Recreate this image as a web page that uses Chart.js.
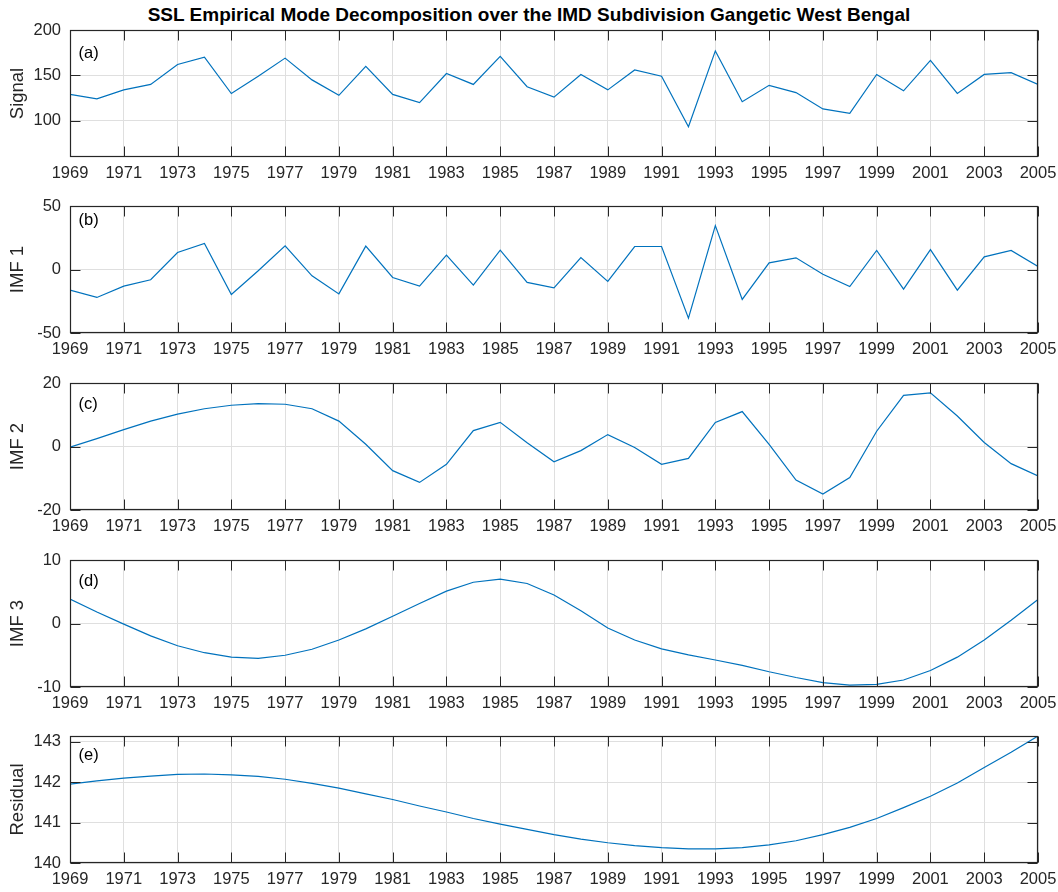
<!DOCTYPE html>
<html>
<head>
<meta charset="utf-8">
<script src="https://cdn.jsdelivr.net/npm/chart.js@4.4.0/dist/chart.umd.min.js"></script>
<style>
    body { margin: 0; background: #ffffff; }
    #figura { position: relative; width: 1058px; height: 892px; background: #ffffff; }
    #titulo {
        position: absolute; left: 0; top: 5px; width: 1058px; text-align: center;
        font: bold 19px/20px "Liberation Sans", Arial, sans-serif; color: #000000;
    }
    .panel { position: absolute; left: 0; width: 1058px; height: 176px; }
</style>
</head>
<body>
<div id="figura">
    <div id="titulo">SSL Empirical Mode Decomposition over the IMD Subdivision Gangetic West Bengal</div>
</div>
<script>
var years = [1969, 1970, 1971, 1972, 1973, 1974, 1975, 1976, 1977, 1978,
    1979, 1980, 1981, 1982, 1983, 1984, 1985, 1986, 1987, 1988,
    1989, 1990, 1991, 1992, 1993, 1994, 1995, 1996, 1997, 1998,
    1999, 2000, 2001, 2002, 2003, 2004, 2005];

var x_ticks = [1969, 1971, 1973, 1975, 1977, 1979, 1981, 1983, 1985, 1987,
    1989, 1991, 1993, 1995, 1997, 1999, 2001, 2003, 2005];

var signal = [129, 124, 134, 140, 162, 170, 130, 149, 169, 145,
    128, 160, 129, 120, 152, 140, 171, 137.5, 126, 151,
    134, 156, 149, 93.4, 177, 121, 139, 131, 113, 108,
    151, 133, 166.5, 130, 151, 153, 140];

var imf1 = [-16.3, -22, -13.1, -8.1, 13.4, 20.5, -19.7, -1, 18.6, -5,
    -19.2, 18.4, -6.3, -13.1, 11.3, -12.3, 15.2, -10.2, -14.4, 9.4,
    -9.4, 18.1, 18.1, -38.3, 34.6, -23.6, 5.2, 9.2, -3.7, -13.4,
    15, -15.5, 15.7, -16.3, 10, 15, 2.4];

var imf2 = [-0.2, 2.5, 5.3, 8, 10.2, 11.9, 13, 13.5, 13.3, 11.9,
    8, 0.7, -7.6, -11.3, -5.6, 5, 7.6, 1.2, -4.8, -1.3,
    3.75, -0.3, -5.6, -3.75, 7.6, 11, 0.7, -10.6, -15, -9.8,
    4.8, 16.1, 16.9, 9.6, 1.25, -5.4, -9.3];

var imf3 = [3.84, 1.8, -0.1, -1.95, -3.5, -4.6, -5.3, -5.5, -5, -4.05,
    -2.6, -0.85, 1.15, 3.15, 5.1, 6.5, 7, 6.3, 4.5, 2,
    -0.7, -2.6, -4, -4.95, -5.75, -6.6, -7.6, -8.5, -9.3, -9.7,
    -9.6, -8.9, -7.4, -5.3, -2.6, 0.5, 3.8];

var residual = [141.95, 142.03, 142.1, 142.15, 142.19, 142.2, 142.18, 142.14, 142.07, 141.97,
    141.85, 141.71, 141.57, 141.41, 141.26, 141.1, 140.96, 140.83, 140.7, 140.59,
    140.5, 140.43, 140.38, 140.35, 140.35, 140.38, 140.45, 140.55, 140.7, 140.88,
    141.1, 141.37, 141.65, 141.98, 142.36, 142.74, 143.14];

var y_labels = ['Signal', 'IMF 1', 'IMF 2', 'IMF 3', 'Residual'];
var panel_tags = ['(a)', '(b)', '(c)', '(d)', '(e)'];
var y_ticks = [[100, 150, 200], [-50, 0, 50], [-20, 0, 20], [-10, 0, 10], [140, 141, 142, 143]];
var y_limits = [[60, 200], [-50, 50], [-20, 20], [-10, 10], [140, 143.14]];

// layout (pixels)
var panel_tops = [30, 206, 382.5, 559.5, 735.5];
var tag_offsets = [23, 14, 21, 21, 19];
var PLOT_H = 127;
var PAD_TOP = 8;
var CANVAS_H = 176;
var AXIS_W = 70;
var PAD_RIGHT = 20;

var AXIS_COLOR = '#262626';
var GRID_COLOR = '#dfdfdf';
var LINE_COLOR = '#0072BD';
var FONT = '"Liberation Sans", Arial, sans-serif';

var series = [signal, imf1, imf2, imf3, residual];

// ejes al estilo matlab: caja y marcas hacia dentro
var matlab_axes = {
    id: 'matlab_axes',
    afterDraw: function (chart, args, opts) {
        var n = opts.panel;
        var ctx = chart.ctx;
        var area = chart.chartArea;
        var xs = chart.scales.x;
        var ys = chart.scales.y;
        var tl = 10;
        var left = Math.round(area.left) + 0.5;
        var right = Math.round(area.right) - 0.5;
        var top = Math.round(area.top) + 0.5;
        var bottom = Math.round(area.bottom) - 0.5;
        ctx.save();
        ctx.strokeStyle = AXIS_COLOR;
        ctx.lineWidth = 1;
        ctx.beginPath();
        for (var i = 0; i < x_ticks.length; i++) {
            var px = Math.round(xs.getPixelForValue(x_ticks[i])) + 0.5;
            ctx.moveTo(px, bottom);
            ctx.lineTo(px, bottom - tl);
            ctx.moveTo(px, top);
            ctx.lineTo(px, top + tl);
        }
        for (var j = 0; j < y_ticks[n].length; j++) {
            var py = Math.round(ys.getPixelForValue(y_ticks[n][j])) + 0.5;
            ctx.moveTo(left, py);
            ctx.lineTo(left + tl, py);
            ctx.moveTo(right, py);
            ctx.lineTo(right - tl, py);
        }
        ctx.stroke();
        ctx.lineWidth = 1.2;
        ctx.strokeRect(left, top, right - left, bottom - top);

        ctx.fillStyle = '#000000';
        ctx.font = '16.5px ' + FONT;
        ctx.textAlign = 'left';
        ctx.textBaseline = 'middle';
        ctx.fillText(panel_tags[n], area.left + 8.5, area.top + tag_offsets[n]);
        ctx.restore();
    }
};

function create_panel(n) {
    var div = document.createElement('div');
    div.className = 'panel';
    div.style.top = (panel_tops[n] - PAD_TOP) + 'px';
    var canvas = document.createElement('canvas');
    canvas.width = 1058;
    canvas.height = CANVAS_H;
    div.appendChild(canvas);
    document.getElementById('figura').appendChild(div);

    var puntos = [];
    for (var i = 0; i < years.length; i++) {
        puntos.push({ x: years[i], y: series[n][i] });
    }

    return new Chart(canvas, {
        type: 'line',
        data: {
            datasets: [{
                data: puntos,
                borderColor: LINE_COLOR,
                borderWidth: 1.2,
                pointRadius: 0,
                tension: 0,
                fill: false
            }]
        },
        options: {
            responsive: false,
            animation: false,
            devicePixelRatio: 1,
            layout: { padding: { top: PAD_TOP, right: PAD_RIGHT, left: 0, bottom: 0 } },
            plugins: {
                legend: { display: false },
                tooltip: { enabled: false },
                matlab_axes: { panel: n }
            },
            scales: {
                x: {
                    type: 'linear',
                    min: 1969,
                    max: 2005,
                    afterBuildTicks: function (scale) {
                        scale.ticks = x_ticks.map(function (v) { return { value: v }; });
                    },
                    afterFit: function (scale) {
                        scale.height = CANVAS_H - PAD_TOP - PLOT_H;
                        scale.paddingLeft = 0;
                        scale.paddingRight = 0;
                    },
                    border: { display: false },
                    grid: { color: GRID_COLOR, lineWidth: 1, drawTicks: false },
                    ticks: {
                        autoSkip: false,
                        maxRotation: 0,
                        padding: 7,
                        color: AXIS_COLOR,
                        font: { family: FONT, size: 16.5 },
                        callback: function (v) { return String(v); }
                    }
                },
                y: {
                    type: 'linear',
                    min: y_limits[n][0],
                    max: y_limits[n][1],
                    afterBuildTicks: function (scale) {
                        scale.ticks = y_ticks[n].map(function (v) { return { value: v }; });
                    },
                    afterFit: function (scale) {
                        scale.width = AXIS_W;
                        scale.paddingTop = 0;
                        scale.paddingBottom = 0;
                    },
                    border: { display: false },
                    grid: { color: GRID_COLOR, lineWidth: 1, drawTicks: false },
                    title: {
                        display: true,
                        text: y_labels[n],
                        color: AXIS_COLOR,
                        font: { family: FONT, size: 18.5, lineHeight: 1.2 },
                        padding: { top: 7, bottom: 0 }
                    },
                    ticks: {
                        padding: 9,
                        color: AXIS_COLOR,
                        font: { family: FONT, size: 16.5 },
                        callback: function (v) { return String(v); }
                    }
                }
            }
        },
        plugins: [matlab_axes]
    });
}

for (var p = 0; p < series.length; p++) {
    create_panel(p);
}
</script>
</body>
</html>
